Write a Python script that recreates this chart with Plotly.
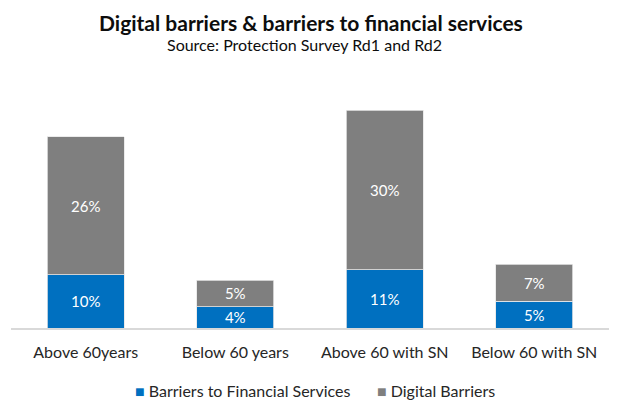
import plotly.graph_objects as go

categories = ["Above 60years", "Below 60 years", "Above 60 with SN", "Below 60 with SN"]
financial_barriers = [10, 4, 11, 5]
digital_barriers = [26, 5, 30, 7]
series_names = ["Barriers to Financial Services", "Digital Barriers"]

BLUE = "#0070C0"
GRAY = "#7F7F7F"
FONT = "Lato, 'Open Sans', sans-serif"
TEXT = "#262626"

# plot area geometry (pixels)
L, R, T, B = 11, 8, 89, 72
W, H = 617, 400
PW, PH = W - L - R, H - T - B


def px_x(x):
    return (x - L) / PW


def px_y(y):
    return (H - B - y) / PH


fig = go.Figure()
for vals, color, name in [(financial_barriers, BLUE, series_names[0]),
                          (digital_barriers, GRAY, series_names[1])]:
    fig.add_trace(go.Bar(
        x=categories, y=vals, name=name,
        marker=dict(color=color, line=dict(color="#E6E6E6", width=0.8)),
        text=[f"{v}%" for v in vals], textposition="inside",
        insidetextanchor="middle", constraintext="none",
        textfont=dict(color="white", size=15, family=FONT),
    ))

fig.update_layout(
    width=W, height=H,
    barmode="stack", bargap=0.487,
    paper_bgcolor="white", plot_bgcolor="white",
    font=dict(family=FONT, color=TEXT, size=16),
    margin=dict(l=L, r=R, t=T, b=B, autoexpand=False),
    showlegend=False,
)

fig.add_annotation(text="<b>Digital barriers & barriers to financial services</b>",
                   xref="paper", yref="paper", x=px_x(311), y=px_y(22),
                   showarrow=False, font=dict(size=21, family=FONT, color="#0D0D0D"),
                   yanchor="middle")
fig.add_annotation(text="Source: Protection Survey Rd1 and Rd2",
                   xref="paper", yref="paper", x=px_x(304), y=px_y(44),
                   showarrow=False, font=dict(size=16, family=FONT, color="#0D0D0D"),
                   yanchor="middle")

# legend entries
for name, color, x0 in [(series_names[0], BLUE, 133), (series_names[1], GRAY, 375)]:
    fig.add_annotation(
        text=f"<span style='color:{color}'>■</span> {name}",
        xref="paper", yref="paper", x=px_x(x0), y=px_y(390),
        xanchor="left", yanchor="middle", showarrow=False,
        font=dict(size=16, family=FONT, color=TEXT),
    )

fig.update_xaxes(showline=True, linecolor="#D9D9D9", linewidth=1.5, ticks="",
                 tickfont=dict(size=16, family=FONT, color=TEXT),
                 ticklabelstandoff=9, automargin=False)
fig.update_yaxes(range=[0, 45], visible=False, showgrid=False)

fig.write_html("out.html")
